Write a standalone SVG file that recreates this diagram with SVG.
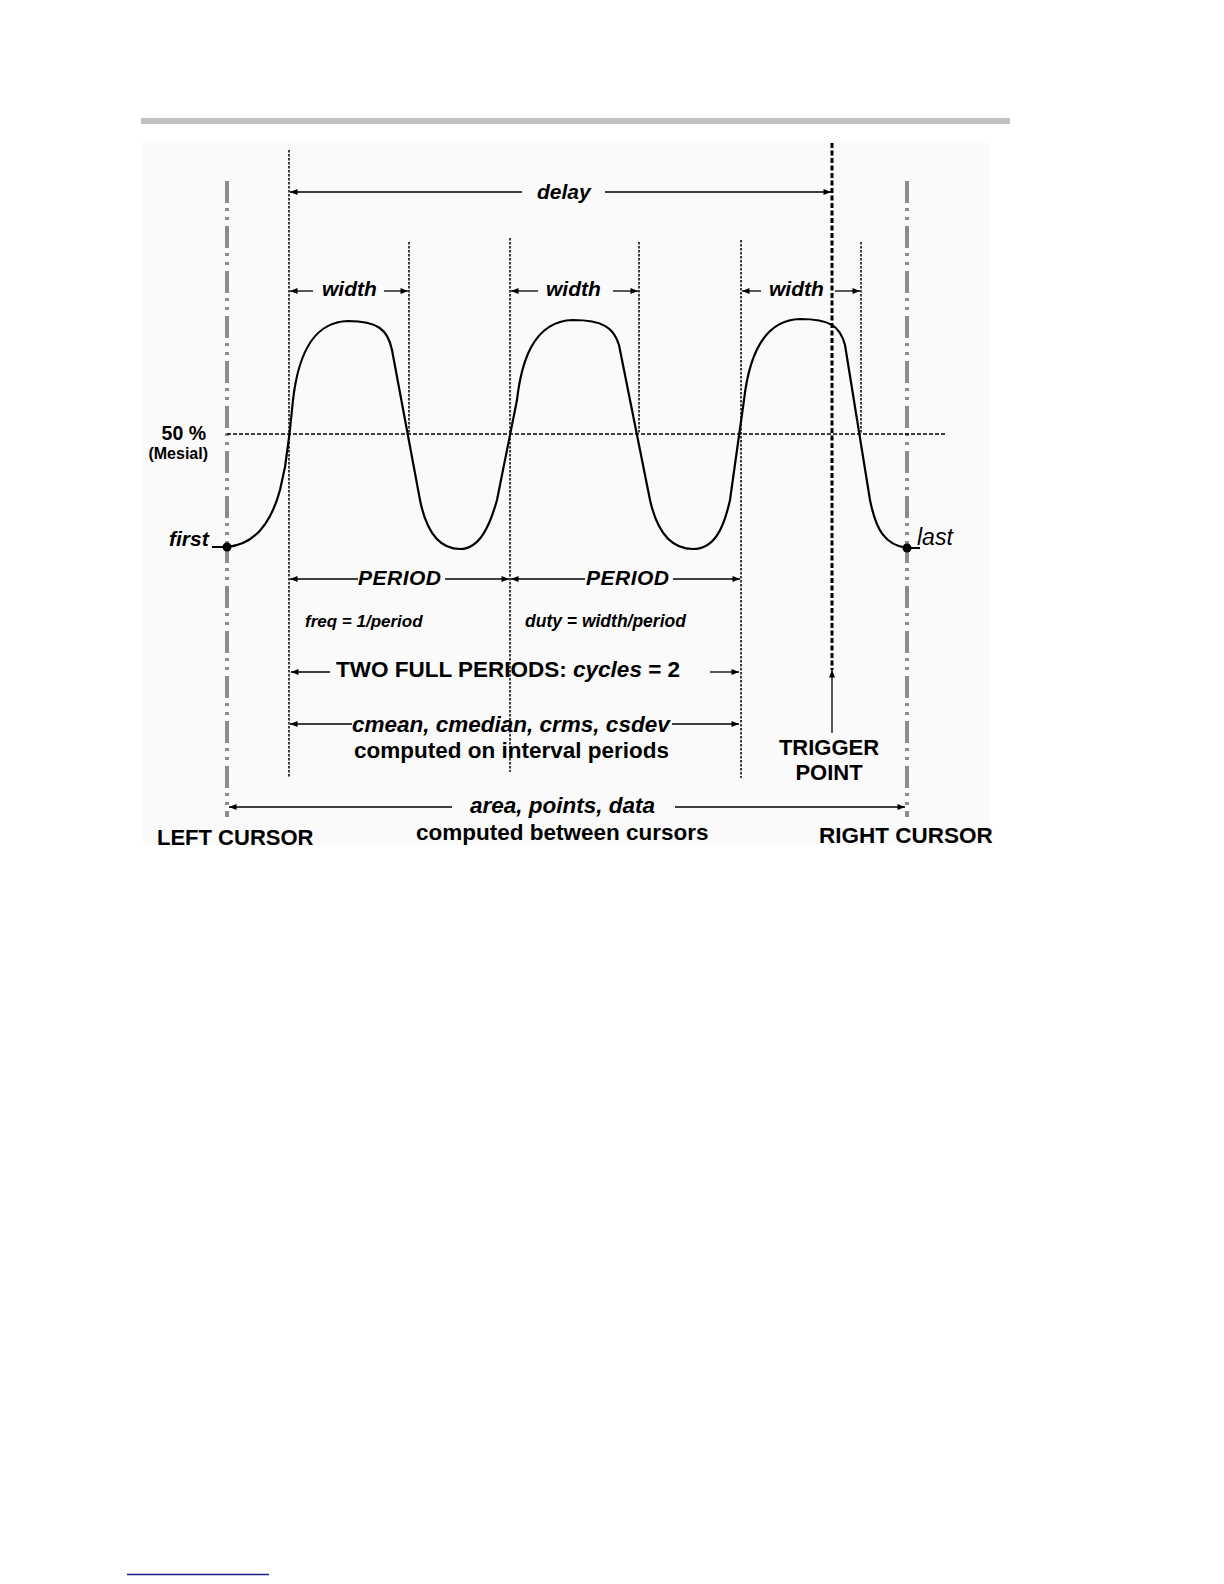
<svg xmlns="http://www.w3.org/2000/svg" width="1224" height="1584" viewBox="0 0 1224 1584">
<style>
text{font-family:"Liberation Sans",Arial,sans-serif;fill:#000;font-weight:bold}
.it{font-style:italic}
.cur{stroke:#8c8c8c;stroke-width:4;stroke-dasharray:22 5 3 6 3 6;fill:none}
.dot{stroke:#000;stroke-width:1.5;stroke-dasharray:2.5 1.5;fill:none}
.arr{stroke:#000;stroke-width:1.3;fill:none;marker-end:url(#ah)}
</style>
<defs>
<marker id="ah" viewBox="0 0 10 8" refX="10" refY="4" markerWidth="8" markerHeight="6" orient="auto" markerUnits="userSpaceOnUse"><path d="M0,0 L10,4 L0,8 z" fill="#000"/></marker>
</defs>
<rect x="0" y="0" width="1224" height="1584" fill="#fff"/>
<rect x="143" y="143" width="847" height="702" fill="#fafafa"/>
<rect x="141" y="118" width="869" height="6" fill="#c0c0c0"/>
<line x1="127" y1="1574.5" x2="269" y2="1574.5" stroke="#1c1c8a" stroke-width="1.5"/>

<g id="left-cursor"><line class="cur" x1="227" y1="181" x2="227" y2="817"/><text x="157" y="845" font-size="22">LEFT CURSOR</text></g>
<g id="right-cursor"><line class="cur" x1="907" y1="181" x2="907" y2="817"/><text x="819" y="843" font-size="22.5">RIGHT CURSOR</text></g>
<g id="mesial"><line x1="227" y1="434" x2="947" y2="434" stroke="#000" stroke-width="1.5" stroke-dasharray="4 2"/><text x="206" y="440" font-size="19.5" text-anchor="end">50 %</text><text x="208" y="459" font-size="16" text-anchor="end">(Mesial)</text></g>
<g id="markers">
<line class="dot" x1="289" y1="150" x2="289" y2="777"/>
<line class="dot" x1="409" y1="242" x2="409" y2="434"/>
<line class="dot" x1="510" y1="238" x2="510" y2="772"/>
<line class="dot" x1="639" y1="242" x2="639" y2="434"/>
<line class="dot" x1="741" y1="240" x2="741" y2="778"/>
<line class="dot" x1="861" y1="242" x2="861" y2="434"/>
</g>
<g id="trigger"><line x1="832" y1="143" x2="832" y2="670" stroke="#000" stroke-width="3" stroke-dasharray="5 2.5"/><text x="829" y="755" font-size="22" text-anchor="middle">TRIGGER</text><text x="829" y="780" font-size="22" text-anchor="middle">POINT</text></g>
<g id="waveform">
<path d="M227 547 C252 545 270 527 280 490 L285 467 L289.5 434 L293 400 C297 365 308 322 348 321 C378 321 388 330 392 350 L420 500 C425 525 435 549 460 549 C480 549 490 525 497 500 L517 400 C521 365 532 321 573 320 C603 320 614 328 619 345 L650 500 C656 527 668 549 693 549 C715 549 724 527 730 500 L744 400 C748 365 760 320 800 319 C830 319 840 326 845 345 L870 500 C876 530 885 545 907 548" fill="none" stroke="#000" stroke-width="2.2" stroke-linejoin="round"/>
</g>
<g id="first"><line x1="212" y1="547" x2="227" y2="547" stroke="#000" stroke-width="2"/><circle cx="227" cy="547" r="4.5" fill="#000"/><text class="it" x="169" y="546" font-size="21">first</text></g>
<g id="last"><line x1="907" y1="548" x2="920" y2="548" stroke="#000" stroke-width="2"/><circle cx="907" cy="548" r="4.5" fill="#000"/><text class="it" x="917" y="545" font-size="23" style="font-weight:normal">last</text></g>
<g id="labels">
<text class="it" x="537" y="199" font-size="21">delay</text>
<text class="it" x="322" y="296" font-size="21">width</text>
<text class="it" x="546" y="296" font-size="21">width</text>
<text class="it" x="769" y="296" font-size="21">width</text>
<text class="it" x="358" y="585" font-size="21" letter-spacing="0.5">PERIOD</text>
<text class="it" x="586" y="585" font-size="21" letter-spacing="0.5">PERIOD</text>
<text class="it" x="305" y="627" font-size="17">freq = 1/period</text>
<text class="it" x="525" y="627" font-size="17.5">duty = width/period</text>
<text x="336" y="677" font-size="22.5">TWO FULL PERIODS: <tspan class="it">cycles</tspan> = 2</text>
<text class="it" x="352" y="732" font-size="22.5">cmean, cmedian, crms, csdev</text>
<text x="354" y="758" font-size="22.5">computed on interval periods</text>
<text class="it" x="470" y="813" font-size="22.5">area, points, data</text>
<text x="416" y="840" font-size="22.5">computed between cursors</text>
</g>
<g id="connectors">
<line class="arr" x1="522" y1="192" x2="290" y2="192"/>
<line class="arr" x1="605" y1="192" x2="831" y2="192"/>
<line class="arr" x1="313" y1="291" x2="290" y2="291"/>
<line class="arr" x1="384" y1="291" x2="408" y2="291"/>
<line class="arr" x1="538" y1="291" x2="511" y2="291"/>
<line class="arr" x1="613" y1="291" x2="638" y2="291"/>
<line class="arr" x1="761" y1="291" x2="742" y2="291"/>
<line class="arr" x1="835" y1="291" x2="860" y2="291"/>
<line class="arr" x1="358" y1="579" x2="290" y2="579"/>
<line class="arr" x1="445" y1="579" x2="509" y2="579"/>
<line class="arr" x1="585" y1="579" x2="511" y2="579"/>
<line class="arr" x1="673" y1="579" x2="740" y2="579"/>
<line class="arr" x1="330" y1="672" x2="291" y2="672"/>
<line class="arr" x1="710" y1="672" x2="739" y2="672"/>
<line class="arr" x1="352" y1="724" x2="290" y2="724"/>
<line class="arr" x1="672" y1="724" x2="739" y2="724"/>
<line class="arr" x1="452" y1="807" x2="229" y2="807"/>
<line class="arr" x1="675" y1="807" x2="905" y2="807"/>
<line class="arr" x1="832" y1="733" x2="832" y2="670"/>
</g>
</svg>
